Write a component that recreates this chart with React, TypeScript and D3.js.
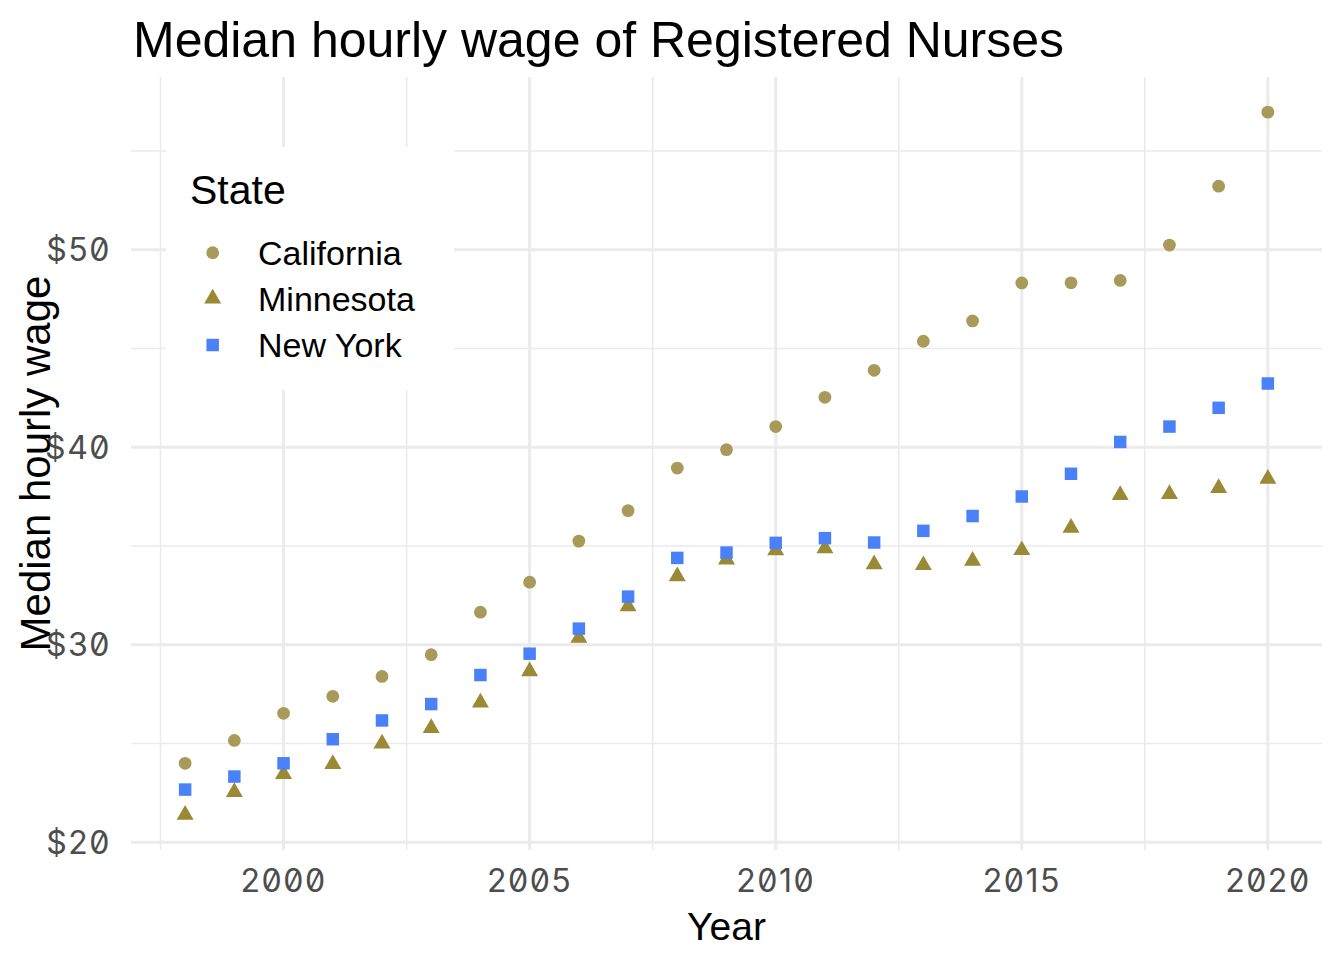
import { scaleLinear, symbol, symbolCircle, symbolSquare, symbolTriangle, range } from 'd3';

// Median hourly wage of Registered Nurses, 1998–2020, three states.
const years = range(1998, 2021);
const california = [24.0, 25.16, 26.53, 27.39, 28.4, 29.5, 31.65, 33.17, 35.25, 36.79, 38.95, 39.88, 41.05, 42.53, 43.9, 45.37, 46.4, 48.32, 48.33, 48.45, 50.24, 53.22, 56.97];
const minnesota = [21.39, 22.54, 23.45, 23.96, 25.0, 25.78, 27.08, 28.66, 30.35, 31.95, 33.47, 34.32, 34.78, 34.88, 34.07, 34.03, 34.25, 34.79, 35.92, 37.58, 37.63, 37.94, 38.4];
const newYork = [22.67, 23.33, 24.0, 25.22, 26.17, 27.0, 28.47, 29.55, 30.82, 32.44, 34.4, 34.67, 35.16, 35.4, 35.18, 35.77, 36.52, 37.51, 38.66, 40.27, 41.05, 42.0, 43.23];

const xMajor = [2000, 2005, 2010, 2015, 2020];
const xMinor = [1997.5, 2002.5, 2007.5, 2012.5, 2017.5];
const yMajor = [20, 30, 40, 50];
const yMinor = [25, 35, 45, 55];

const series = [
  { name: 'California', values: california, color: '#a89a58', shape: symbolCircle, size: 128 },
  { name: 'Minnesota', values: minnesota, color: '#9a8a35', shape: symbolTriangle, size: 125 },
  { name: 'New York', values: newYork, color: '#4a80f8', shape: symbolSquare, size: 156 },
];

const W = 1344;
const H = 960;
const panel = { left: 131, right: 1322, top: 77, bottom: 850 };

const sans = '"Liberation Sans", Arial, sans-serif';
const tickStyle = { fontFamily: 'Inter, sans-serif', fontSize: 32, letterSpacing: 1.5, fontFeatureSettings: '"zero" 1' };

export default function App() {
  const allVals = [...california, ...minnesota, ...newYork];
  const lo = Math.min(...allVals);
  const hi = Math.max(...allVals);
  const padY = (hi - lo) * 0.05;
  const padX = (2020 - 1998) * 0.05;
  const x = scaleLinear().domain([1998 - padX, 2020 + padX]).range([panel.left, panel.right]);
  const y = scaleLinear().domain([lo - padY, hi + padY]).range([panel.bottom, panel.top]);

  const legend = { x: 166, y: 147, w: 288, h: 243 };
  const legendRows = [252.7, 298.5, 345];

  return (
    <div style={{ position: 'absolute', left: 0, top: 0 }}>
      <svg width={W} height={H} viewBox={`0 0 ${W} ${H}`} style={{ display: 'block', background: '#fff' }}>
        {/* grid */}
        {xMinor.map((t) => (
          <line key={'xm' + t} x1={x(t)} x2={x(t)} y1={panel.top} y2={panel.bottom} stroke="#ebebeb" strokeWidth={1.6} />
        ))}
        {yMinor.map((t) => (
          <line key={'ym' + t} x1={panel.left} x2={panel.right} y1={y(t)} y2={y(t)} stroke="#ebebeb" strokeWidth={1.6} />
        ))}
        {xMajor.map((t) => (
          <line key={'xM' + t} x1={x(t)} x2={x(t)} y1={panel.top} y2={panel.bottom} stroke="#ebebeb" strokeWidth={3} />
        ))}
        {yMajor.map((t) => (
          <line key={'yM' + t} x1={panel.left} x2={panel.right} y1={y(t)} y2={y(t)} stroke="#ebebeb" strokeWidth={3} />
        ))}

        {/* points */}
        {series.map((s) => {
          const p = symbol().type(s.shape).size(s.size)() ?? undefined;
          return (
            <g key={s.name}>
              {s.values.map((v, i) => (
                <path key={i} d={p} fill={s.color} transform={`translate(${x(years[i])},${y(v)})`} />
              ))}
            </g>
          );
        })}

        {/* axis tick labels */}
        {xMajor.map((t) => (
          <text key={'xl' + t} x={x(t)} y={892} textAnchor="middle" fill="#4d4d4d" style={tickStyle}>
            {t}
          </text>
        ))}
        {yMajor.map((t) => (
          <text key={'yl' + t} x={111} y={y(t)} dy="0.36em" textAnchor="end" fill="#4d4d4d" style={tickStyle}>
            ${t}
          </text>
        ))}

        {/* axis titles */}
        <text x={(panel.left + panel.right) / 2} y={940} textAnchor="middle" fill="#000" style={{ fontFamily: sans, fontSize: 39 }}>
          Year
        </text>
        <text transform={`translate(50,${(panel.top + panel.bottom) / 2}) rotate(-90)`} textAnchor="middle" fill="#000" style={{ fontFamily: sans, fontSize: 42 }}>
          Median hourly wage
        </text>

        {/* title */}
        <text x={133} y={57} fill="#000" style={{ fontFamily: sans, fontSize: 50 }}>
          Median hourly wage of Registered Nurses
        </text>

        {/* legend */}
        <rect x={legend.x} y={legend.y} width={legend.w} height={legend.h} fill="#fff" />
        <text x={190} y={204} fill="#000" style={{ fontFamily: sans, fontSize: 41 }}>
          State
        </text>
        {series.map((s, i) => (
          <g key={'lg' + s.name}>
            <path d={symbol().type(s.shape).size(s.size)() ?? undefined} fill={s.color} transform={`translate(212.7,${legendRows[i]})`} />
            <text x={258} y={legendRows[i]} dy="0.36em" fill="#000" style={{ fontFamily: sans, fontSize: 34 }}>
              {s.name}
            </text>
          </g>
        ))}
      </svg>
    </div>
  );
}
